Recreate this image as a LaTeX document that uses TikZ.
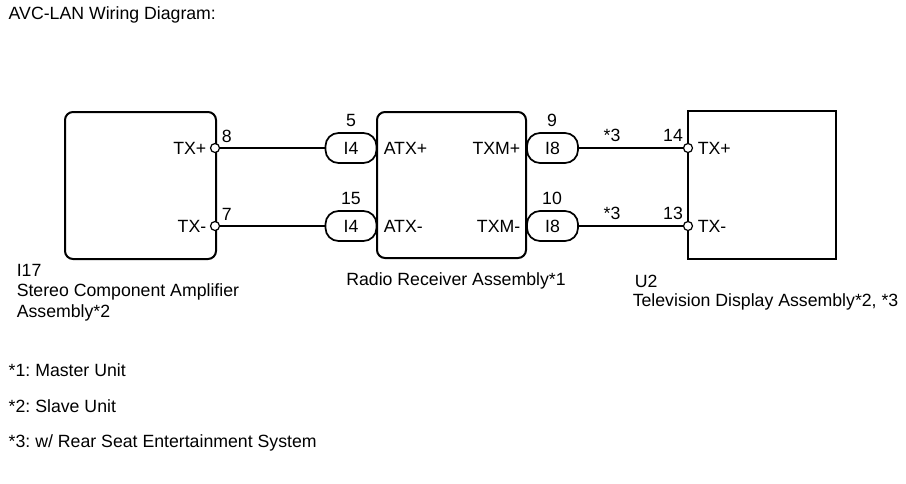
\documentclass[tikz,border=0pt]{standalone}
\usepackage{fontspec}
\setmainfont{Liberation Sans}
\frenchspacing
\usetikzlibrary{calc, positioning}
\tikzset{>=latex}
\tikzset{
  unitbox/.style={draw, line width=2pt, inner sep=0pt},
  plug/.style={draw, line width=1.7pt, rounded corners=13pt, minimum width=51pt, minimum height=30pt, inner sep=0pt},
  term/.style={circle, draw, fill=white, line width=1.2pt, inner sep=0pt, minimum size=9pt},
  lbl/.style={inner sep=0pt}
}

\begin{document}
\begin{tikzpicture}[x=1pt, y=-1pt, font=\fontsize{17.7}{21}\selectfont, line width=1.5pt]
\useasboundingbox (0,0) rectangle (906,483);
\node[lbl, right] (title) at (8,15) {AVC-LAN Wiring Diagram:};

\node[unitbox, rounded corners=8pt, minimum width=151pt, minimum height=147pt] (amp) at (140.5,185.5) {};
\node[unitbox, rounded corners=8pt, minimum width=149pt, minimum height=146pt] (radio) at (451.5,185) {};
\node[unitbox, minimum width=148pt, minimum height=148pt] (tv) at (762,185) {};

\node[plug] (c5) at (351,148) {I4};
\node[plug] (c15) at (351,226) {I4};
\node[plug] (c9) at (552.5,148) {I8};
\node[plug] (c10) at (552.5,226) {I8};

\node[term] (a8) at (215,148) {};
\node[term] (a7) at (215,226) {};
\node[term] (t14) at (688,148) {};
\node[term] (t13) at (688,226) {};

\draw (a8) -- (c5);
\draw (a7) -- (c15);
\draw (c9) -- (t14);
\draw (c10) -- (t13);

\node[lbl, left] at (207,148) {TX+};
\node[lbl, left] at (207,226) {TX-};
\node[lbl, right] at (221,136) {8};
\node[lbl, right] at (221,214) {7};
\node[lbl] at (351,120) {5};
\node[lbl] at (351,198) {15};
\node[lbl, right] at (383,148) {ATX+};
\node[lbl, right] at (383,226) {ATX-};
\node[lbl, left] at (521,148) {TXM+};
\node[lbl, left] at (521,226) {TXM-};
\node[lbl] at (552,120) {9};
\node[lbl] at (552,198) {10};
\node[lbl] at (612,135) {*3};
\node[lbl] at (612,213) {*3};
\node[lbl] at (673,135) {14};
\node[lbl] at (673,213) {13};
\node[lbl, right] at (697,148) {TX+};
\node[lbl, right] at (697,226) {TX-};

\node[lbl, right] (ampno) at (16,270) {I17};
\node[lbl, right] (ampname) at (16,292) {Stereo Component Amplifier};
\node[lbl, right] (ampname2) at (16,313) {Assembly*2};
\node[lbl] (radioname) at (456,281) {Radio Receiver Assembly*1};
\node[lbl, right] (tvno) at (634,281) {U2};
\node[lbl, right] (tvname) at (632,302) {Television Display Assembly*2, *3};

\node[lbl, right] (note1) at (8,370) {*1: Master Unit};
\node[lbl, right] (note2) at (8,406) {*2: Slave Unit};
\node[lbl, right] (note3) at (8,443) {*3: w/ Rear Seat Entertainment System};
\end{tikzpicture}
\end{document}
